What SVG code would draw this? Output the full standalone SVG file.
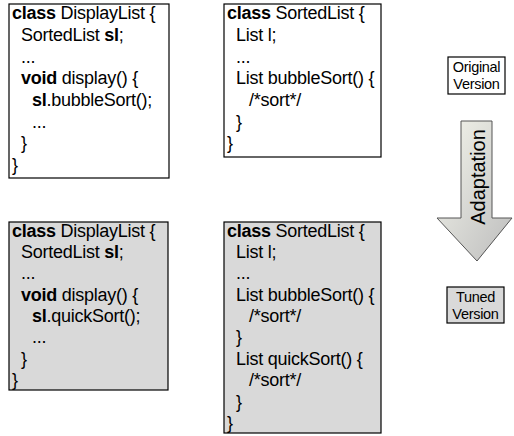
<svg xmlns="http://www.w3.org/2000/svg" width="514" height="436" viewBox="0 0 514 436">
<defs>
<style>
.box{fill:#ffffff;stroke:#000;stroke-width:1.2}
.tuned{fill:#d9d9d9;stroke:#000;stroke-width:1.2}
.code{font-family:"Liberation Sans",Arial,sans-serif;font-size:18px;letter-spacing:-0.25px;fill:#000}
.b{font-weight:bold}
.lbl{font-family:"Liberation Sans",Arial,sans-serif;font-size:14.5px;letter-spacing:-0.3px;fill:#000;text-anchor:middle}
</style>
<linearGradient id="ag" x1="0" y1="0" x2="1" y2="1">
<stop offset="0" stop-color="#f4f5ec"/>
<stop offset="1" stop-color="#bdbdbd"/>
</linearGradient>
</defs>
<g id="orig-displaylist">
<rect class="box" x="9" y="4" width="160" height="174"/>
<text class="code"><tspan x="12" y="19"><tspan class="b">class</tspan> DisplayList {</tspan><tspan x="21" y="41">SortedList <tspan class="b">sl</tspan>;</tspan><tspan x="21" y="62.5">...</tspan><tspan x="21" y="84"><tspan class="b">void</tspan> display() {</tspan><tspan x="32" y="106"><tspan class="b">sl</tspan>.bubbleSort();</tspan><tspan x="32" y="127.5">...</tspan><tspan x="21" y="149">}</tspan><tspan x="12" y="171">}</tspan></text>
</g>
<g id="orig-sortedlist">
<rect class="box" x="224" y="4" width="157" height="153"/>
<text class="code"><tspan x="227" y="19"><tspan class="b">class</tspan> SortedList {</tspan><tspan x="236" y="41">List l;</tspan><tspan x="236" y="62.5">...</tspan><tspan x="236" y="84">List bubbleSort() {</tspan><tspan x="249" y="106">/*sort*/</tspan><tspan x="236" y="127.5">}</tspan><tspan x="227" y="149">}</tspan></text>
</g>
<g id="tuned-displaylist">
<rect class="tuned" x="9" y="222" width="159" height="168"/>
<text class="code"><tspan x="12" y="236.5"><tspan class="b">class</tspan> DisplayList {</tspan><tspan x="21" y="258">SortedList <tspan class="b">sl</tspan>;</tspan><tspan x="21" y="279">...</tspan><tspan x="21" y="300.5"><tspan class="b">void</tspan> display() {</tspan><tspan x="32" y="322"><tspan class="b">sl</tspan>.quickSort();</tspan><tspan x="32" y="343">...</tspan><tspan x="21" y="364.5">}</tspan><tspan x="12" y="386">}</tspan></text>
</g>
<g id="tuned-sortedlist">
<rect class="tuned" x="224" y="222" width="157" height="211"/>
<text class="code"><tspan x="227" y="236.5"><tspan class="b">class</tspan> SortedList {</tspan><tspan x="236" y="258">List l;</tspan><tspan x="236" y="279">...</tspan><tspan x="236" y="300.5">List bubbleSort() {</tspan><tspan x="249" y="322">/*sort*/</tspan><tspan x="236" y="343">}</tspan><tspan x="236" y="364.5">List quickSort() {</tspan><tspan x="249" y="386">/*sort*/</tspan><tspan x="236" y="407.5">}</tspan><tspan x="227" y="429">}</tspan></text>
</g>
<g id="original-version">
<rect class="box" x="448" y="57" width="57" height="37"/>
<text class="lbl"><tspan x="476.5" y="72">Original</tspan><tspan x="476.5" y="89">Version</tspan></text>
</g>
<g id="tuned-version">
<rect class="tuned" x="447" y="287" width="57" height="36"/>
<text class="lbl"><tspan x="475.5" y="301.5">Tuned</tspan><tspan x="475.5" y="318.5">Version</tspan></text>
</g>
<g id="connectors">
<g id="adaptation-arrow">
<path d="M461,121 H492 V218 H512 L477,261 L437,218 H461 Z" fill="url(#ag)" stroke="#555" stroke-width="1"/>
<text transform="translate(484.5,177) rotate(-90)" font-family="'Liberation Sans',Arial,sans-serif" font-size="20" text-anchor="middle" fill="#000">Adaptation</text>
</g>
</g>
</svg>
